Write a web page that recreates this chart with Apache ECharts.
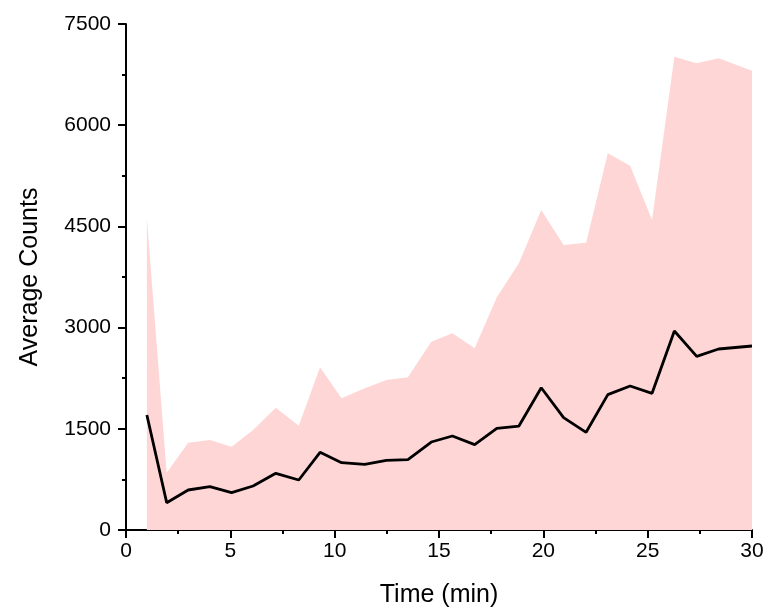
<!DOCTYPE html>
<html>
<head>
<meta charset="utf-8">
<script src="https://cdn.jsdelivr.net/npm/echarts@6/dist/echarts.min.js"></script>
<style>
  html, body { margin: 0; padding: 0; background: #ffffff; }
  #chart { width: 768px; height: 609px; }
</style>
</head>
<body>
<div id="chart"></div>
<script>
// Sampling times (min)
const timeMin = [1.0, 1.95, 2.98, 4.02, 5.06, 6.09, 7.18, 8.28, 9.30, 10.33,
  11.44, 12.48, 13.51, 14.63, 15.64, 16.71, 17.77, 18.83, 19.90, 20.97,
  22.05, 23.09, 24.16, 25.21, 26.28, 27.35, 28.40, 30.0];

// Average counts at each time
const meanCounts = [1704, 405, 593, 642, 553, 652, 840, 741, 1151, 998,
  974, 1033, 1042, 1304, 1393, 1265, 1507, 1541, 2109, 1665,
  1448, 2006, 2134, 2026, 2949, 2574, 2683, 2727];

// Upper edge of the shaded spread band
const upperCounts = [4620, 849, 1294, 1334, 1235, 1482, 1813, 1546, 2411, 1952,
  2100, 2223, 2263, 2791, 2915, 2693, 3450, 3953, 4743, 4224,
  4258, 5583, 5400, 4595, 7015, 6917, 6991, 6808];

const xTicks = { min: 0, max: 30, step: 5 };
const yTicks = { min: 0, max: 7500, step: 1500 };

const pair = (xs, ys) => xs.map((x, i) => [x, ys[i]]);

const font = 'Liberation Sans, Arial, sans-serif';
const chart = echarts.init(document.getElementById('chart'), null, { renderer: 'canvas' });

chart.setOption({
  animation: false,
  backgroundColor: '#ffffff',
  grid: { left: 126, right: 16, top: 24, bottom: 79, containLabel: false, outerBoundsMode: 'none' },
  xAxis: {
    type: 'value',
    min: xTicks.min, max: xTicks.max, interval: xTicks.step,
    name: 'Time (min)', nameLocation: 'middle', nameGap: 53,
    nameTextStyle: { fontFamily: font, fontSize: 25, color: '#000' },
    axisLine: { show: true, onZero: false, lineStyle: { color: '#000', width: 2 } },
    axisTick: { show: true, length: 8, lineStyle: { color: '#000', width: 2 } },
    minorTick: { show: true, splitNumber: 2, length: 4, lineStyle: { color: '#000', width: 2 } },
    axisLabel: { fontFamily: font, fontSize: 21, color: '#000', margin: 11 },
    splitLine: { show: false }
  },
  yAxis: {
    type: 'value',
    min: yTicks.min, max: yTicks.max, interval: yTicks.step,
    name: 'Average Counts', nameLocation: 'middle', nameGap: 83, nameRotate: 90,
    nameTextStyle: { fontFamily: font, fontSize: 25, color: '#000' },
    axisLine: { show: true, onZero: false, lineStyle: { color: '#000', width: 2 } },
    axisTick: { show: true, length: 8, lineStyle: { color: '#000', width: 2 } },
    minorTick: { show: true, splitNumber: 2, length: 4, lineStyle: { color: '#000', width: 2 } },
    axisLabel: { fontFamily: font, fontSize: 21, color: '#000', margin: 15, formatter: v => String(v) },
    splitLine: { show: false }
  },
  series: [
    {
      name: 'Spread',
      type: 'line',
      data: pair(timeMin, upperCounts),
      symbol: 'none',
      lineStyle: { width: 0, opacity: 0 },
      areaStyle: { color: '#ffd6d6', opacity: 1, origin: 'start' },
      z: 1
    },
    {
      name: 'Average',
      type: 'line',
      data: pair(timeMin, meanCounts),
      symbol: 'none',
      lineStyle: { color: '#000', width: 2.8 },
      z: 3
    }
  ]
});
</script>
</body>
</html>
